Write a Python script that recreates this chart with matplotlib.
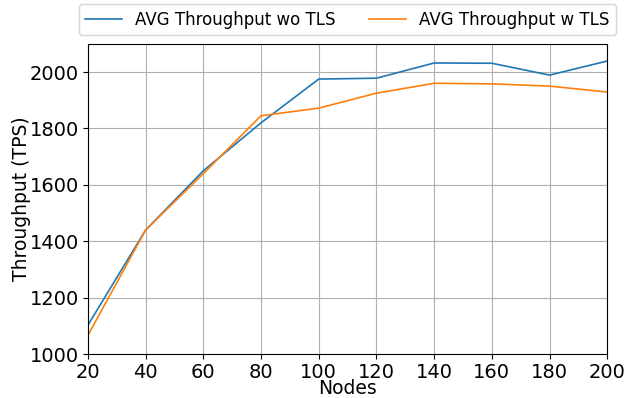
import numpy as np
import matplotlib
matplotlib.use("Agg")
import matplotlib.pyplot as plt

nodes = [20, 40, 60, 80, 100, 120, 140, 160, 180, 200]
tps_wo_tls = [1103, 1440, 1650, 1820, 1975, 1978, 2032, 2031, 1989, 2039]
tps_w_tls = [1067, 1440, 1640, 1845, 1872, 1925, 1960, 1958, 1950, 1929]

plt.rcParams.update({'font.size': 13.5})

fig, ax = plt.subplots(figsize=(6.28, 3.98), dpi=100)
ax.plot(nodes, tps_wo_tls, label="AVG Throughput wo TLS", lw=1.2)
ax.plot(nodes, tps_w_tls, label="AVG Throughput w TLS", lw=1.2)
ax.set_xlim(20, 200)
ax.set_ylim(1000, 2100)
ax.set_xticks(nodes)
ax.set_yticks([1000, 1200, 1400, 1600, 1800, 2000])
ax.tick_params(labelsize=14, pad=3)
ax.set_xlabel("Nodes", labelpad=-2.5)
ax.set_ylabel("Throughput (TPS)", labelpad=-1)
ax.grid()
ax.legend(loc="upper center", bbox_to_anchor=(0.5, 1.155), ncol=2,
          fontsize=12, columnspacing=2.0, handlelength=2.2)
fig.subplots_adjust(left=0.14, right=0.967, bottom=0.11, top=0.89)
fig.savefig("out.png")
